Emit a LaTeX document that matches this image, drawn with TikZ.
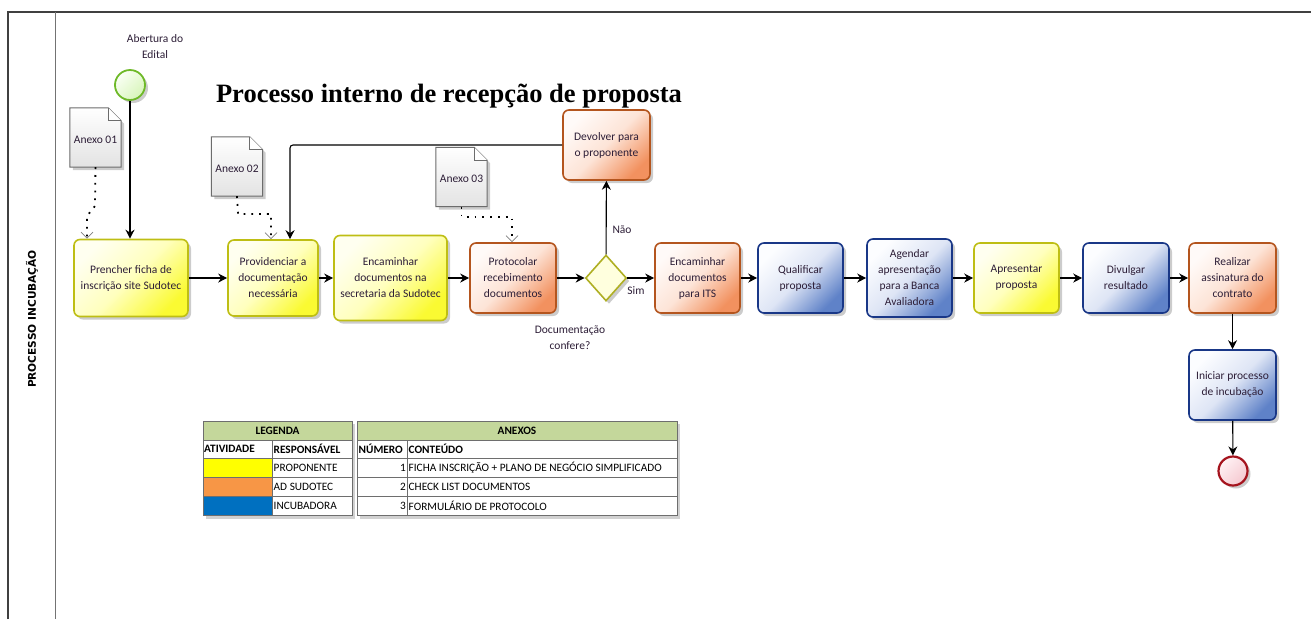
\documentclass[tikz,border=0pt]{standalone}
\usepackage{fontspec}
\setmainfont{Carlito}
\newfontfamily\titlefont{Liberation Serif}
\newfontfamily\lanefont{DejaVu Sans}
\usetikzlibrary{arrows.meta,shadows,shapes.geometric,calc}
\definecolor{yelB}{RGB}{190,190,20}
\definecolor{yelF}{RGB}{250,250,50}
\definecolor{yelM}{RGB}{255,255,190}
\definecolor{yelL}{RGB}{255,255,240}
\definecolor{orB}{RGB}{180,85,30}
\definecolor{orF}{RGB}{242,145,95}
\definecolor{orM}{RGB}{253,228,215}
\definecolor{orL}{RGB}{255,250,248}
\definecolor{blB}{RGB}{25,55,135}
\definecolor{blF}{RGB}{95,130,200}
\definecolor{blM}{RGB}{222,229,245}
\definecolor{blL}{RGB}{252,253,255}
\definecolor{txt}{RGB}{45,30,55}
\definecolor{hdr}{RGB}{196,215,155}
\definecolor{lgY}{RGB}{255,255,0}
\definecolor{lgO}{RGB}{247,150,70}
\definecolor{lgB}{RGB}{0,112,192}
\definecolor{grid}{RGB}{110,110,110}
\newcommand{\tsz}{\fontsize{11.5}{16}\selectfont}
\newcommand{\tblsz}{\fontsize{11.3}{12}\selectfont}
\tikzset{
  shd/.style={drop shadow={shadow xshift=3pt,shadow yshift=-3pt,opacity=.2,fill=black}},
  task/.style={rounded corners=6pt, line width=1.6pt, align=center, font=\tsz, text=txt,
    inner sep=1pt, shd},
  ytask/.style={task, draw=yelB, top color=yelL, bottom color=yelF, middle color=yelM, shading angle=45},
  otask/.style={task, draw=orB, top color=orL, bottom color=orF, middle color=orM, shading angle=45},
  btask/.style={task, draw=blB, top color=blL, bottom color=blF, middle color=blM, shading angle=45},
  flow/.style={line width=1.1pt, black, -{Stealth[length=9pt,width=9pt]}},
  dotflow/.style={line width=1.8pt, dash pattern=on 1.8pt off 6pt, black,
    -{Straight Barb[length=6pt,width=12pt,line width=0.7pt,gray,sep=0pt]}},
  docn/.style={minimum width=51pt, minimum height=59pt, inner sep=0pt, font=\tsz, text=txt},
  docline/.style={draw=gray!85!black, line width=1pt, top color=white, bottom color=gray!22, shd},
  lbl/.style={font=\tsz, text=txt, align=center, inner sep=0pt},
  tbl/.style={font=\tblsz, inner sep=0pt, text=black},
}
\newcommand{\mkdoc}[3]{%
  \node[docn] (#1) at (#2) {};
  \draw[docline] (#1.south west) -- (#1.south east) -- ([yshift=-13pt]#1.north east)
     -- ([xshift=-13pt]#1.north east) -- (#1.north west) -- cycle;
  \draw[gray!85!black, line width=0.8pt, fill=white] ([xshift=-13pt]#1.north east)
     -- ([xshift=-13pt,yshift=-13pt]#1.north east) -- ([yshift=-13pt]#1.north east);
  \node[docn, minimum width=0pt, minimum height=0pt] at ([yshift=-2pt]#1.center) {#3};
}
\begin{document}
\begin{tikzpicture}[x=1pt,y=-1pt]
\useasboundingbox (0,0) rectangle (1311,619);
\fill[white] (0,0) rectangle (1311,619);
% frame
\draw[line width=1.6pt, black!75] (8,619) -- (8,12) -- (1311,12);
\draw[line width=1pt, black!55] (55,12) -- (55,619);
\node[rotate=90, font=\lanefont\bfseries\fontsize{10.6}{11}\selectfont] (lane) at (32,319) {PROCESSO INCUBAÇÃO};
% title
\node[font=\titlefont\bfseries\fontsize{26.5}{30}\selectfont, inner sep=0pt] (title) at (449,96) {Processo interno de recepção de proposta};
% start
\node[circle, minimum size=30pt, inner sep=0pt, draw={rgb,255:red,110;green,185;blue,40}, line width=1.8pt,
  top color={rgb,255:red,250;green,255;blue,245}, bottom color={rgb,255:red,215;green,245;blue,185}, shading angle=45, shd] (start) at (130,85) {};
\node[lbl] (ab) at (155,47) {Abertura do\\Edital};
% documents
\mkdoc{a1}{95.5,137.5}{Anexo 01}
\mkdoc{a2}{237,166.5}{Anexo 02}
\mkdoc{a3}{461.5,177}{Anexo 03}
% tasks
\node[ytask, minimum width=114pt, minimum height=77pt] (t1) at (131,278) {Prencher ficha de\\inscrição site Sudotec};
\node[ytask, minimum width=90pt, minimum height=76pt] (t2) at (273,278) {Providenciar a\\documentação\\necessária};
\node[ytask, minimum width=113pt, minimum height=85pt] (t3) at (390.5,278) {Encaminhar\\documentos na\\secretaria da Sudotec};
\node[otask, minimum width=86pt, minimum height=70pt] (t4) at (513,278) {Protocolar\\recebimento\\documentos};
\node[diamond, minimum width=41pt, minimum height=46pt, inner sep=0pt, draw={rgb,255:red,175;green,175;blue,35},
  line width=1.6pt, fill={rgb,255:red,255;green,255;blue,222}, shd] (dia) at (606,278) {};
\node[otask, minimum width=87pt, minimum height=70pt] (dev) at (606.5,145) {Devolver para\\o proponente};
\node[otask, minimum width=85pt, minimum height=70pt] (its) at (697.5,278) {Encaminhar\\documentos\\para ITS};
\node[btask, minimum width=85pt, minimum height=70pt] (qual) at (800.5,278) {Qualificar\\proposta};
\node[btask, minimum width=85pt, minimum height=78pt] (ag) at (909.5,278) {Agendar\\apresentação\\para a Banca\\Avaliadora};
\node[ytask, minimum width=85pt, minimum height=70pt] (apr) at (1016.5,278) {Apresentar\\proposta};
\node[btask, minimum width=86pt, minimum height=70pt] (div) at (1126,278) {Divulgar\\resultado};
\node[otask, minimum width=87pt, minimum height=70pt] (real) at (1232.5,278) {Realizar\\assinatura do\\contrato};
\node[btask, minimum width=87pt, minimum height=70pt] (ini) at (1232.5,385) {Iniciar processo\\de incubação};
\node[circle, minimum size=29pt, inner sep=0pt, draw={rgb,255:red,165;green,20;blue,30}, line width=2.2pt,
  top color={rgb,255:red,255;green,242;blue,244}, bottom color={rgb,255:red,245;green,200;blue,208}, shading angle=45, shd] (end) at (1233,471) {};
% labels
\node[lbl] (nao) at (622,230) {Não};
\node[lbl] (sim) at (636,291) {Sim};
\node[lbl] (conf) at (570,338) {Documentação\\confere?};
% connectors
\draw[flow] (start) -- (start |- t1.north);
\draw[flow] (t1) -- (t2);
\draw[flow] (t2) -- (t3);
\draw[flow] (t3) -- (t4);
\draw[flow] (t4) -- (dia);
\draw[flow] (dia) -- (its);
\draw[flow] (dia) -- (dev);
\draw[flow] (its) -- (qual);
\draw[flow] (qual) -- (ag);
\draw[flow] (ag) -- (apr);
\draw[flow] (apr) -- (div);
\draw[flow] (div) -- (real);
\draw[flow] (real) -- (ini);
\draw[flow] (ini) -- (end);
\coordinate (fb) at (290,145);
\draw[flow, rounded corners=3pt] (dev.west) -- (fb) -- (fb |- t2.north);
% dotted associations
\coordinate (d1) at (95,206);
\coordinate (d1b) at (87,216);
\draw[dotflow] (a1.south) -- (d1) -- (d1b) -- (d1b |- t1.north);
\coordinate (d2) at (238,214);
\coordinate (d2b) at (271,214);
\draw[dotflow] (a2.south) -- (d2) -- (d2b) -- (d2b |- t2.north);
\coordinate (d3) at (461.5,217);
\coordinate (d3b) at (512,217);
\draw[dotflow] (a3.south) -- (d3) -- (d3b) -- (d3b |- t4.north);
% legend table
\fill[black, opacity=.18] (206,424) rectangle (355,519);
\fill[black, opacity=.18] (360,424) rectangle (680,519);
\fill[white] (203,421) rectangle (352,515);
\fill[white] (357,421) rectangle (677,515);
\fill[hdr] (203,421) rectangle (352,440);
\fill[hdr] (357,421) rectangle (677,440);
\fill[lgY] (203,458) rectangle (272,477);
\fill[lgO] (203,477) rectangle (272,496);
\fill[lgB] (203,496) rectangle (272,515);
\draw[grid, line width=0.8pt] (203,421) rectangle (352,515);
\draw[grid, line width=0.8pt] (357,421) rectangle (677,515);
\foreach \yy in {440,458,477,496} {
  \draw[grid, line width=0.6pt] (203,\yy) -- (352,\yy);
  \draw[grid, line width=0.6pt] (357,\yy) -- (677,\yy);
}
\draw[grid, line width=0.6pt] (272,440) -- (272,515);
\draw[grid, line width=0.6pt] (407,440) -- (407,515);
\node[tbl, font=\tblsz\bfseries] (lg) at (277.5,430.5) {LEGENDA};
\node[tbl, font=\tblsz\bfseries] (ax) at (517,430.5) {ANEXOS};
\node[tbl, font=\tblsz\bfseries, anchor=west] (at) at (204,449) {ATIVIDADE};
\node[tbl, font=\tblsz\bfseries, anchor=west] (rs) at (273.5,449) {RESPONSÁVEL};
\node[tbl, font=\tblsz\bfseries, anchor=west] (nm) at (358.5,449) {NÚMERO};
\node[tbl, font=\tblsz\bfseries, anchor=west] (ct) at (408.5,449) {CONTEÚDO};
\node[tbl, anchor=west] (r1) at (273.5,467.5) {PROPONENTE};
\node[tbl, anchor=west] (r2) at (273.5,486.5) {AD SUDOTEC};
\node[tbl, anchor=west] (r3) at (273.5,505.5) {INCUBADORA};
\node[tbl, anchor=east] (n1) at (406,467.5) {1};
\node[tbl, anchor=east] (n2) at (406,486.5) {2};
\node[tbl, anchor=east] (n3) at (406,505.5) {3};
\node[tbl, anchor=west] (c1) at (408.5,467.5) {FICHA INSCRIÇÃO + PLANO DE NEGÓCIO SIMPLIFICADO};
\node[tbl, anchor=west] (c2) at (408.5,486.5) {CHECK LIST DOCUMENTOS};
\node[tbl, anchor=west] (c3) at (408.5,505.5) {FORMULÁRIO DE PROTOCOLO};
\end{tikzpicture}
\end{document}
